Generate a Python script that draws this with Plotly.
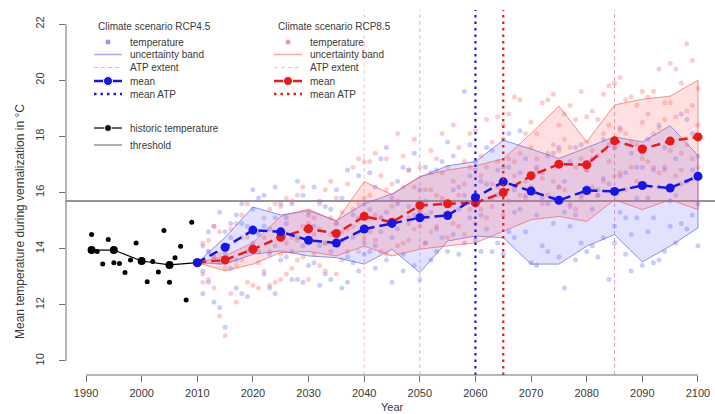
import plotly.graph_objects as go

# ---------------- data ----------------
hist_years = list(range(1991, 2011))
hist_temp = [14.5, 13.9, 13.45, 14.33, 13.5, 13.47, 13.15, 13.6, 14.2, 13.55,
             12.82, 13.54, 13.17, 14.65, 12.8, 13.68, 14.09, 12.17, 14.94, 13.5]
hist_mean_years = [1991, 1995, 2000, 2005, 2010]
hist_mean = [13.95, 13.95, 13.56, 13.42, 13.5]

proj_years = list(range(2011, 2101))

rcp45_a = [13.2, 14.6, 12.1, 15.3, 13.8, 14.9, 12.6, 15.6, 13.9, 14.2,
           15.8, 13.1, 14.7, 16.2, 13.6, 15.1, 12.9, 14.4, 15.9, 13.4,
           14.8, 12.7, 15.5, 13.9, 16.1, 14.3, 12.8, 15.2, 16.6, 13.8,
           15.4, 14.1, 17.2, 13.6, 15.8, 16.4, 13.2, 14.9, 17.4, 15.3,
           14.2, 16.7, 13.9, 15.6, 17.8, 14.5, 16.2, 19.6, 15.1, 17.1,
           16.4, 14.7, 17.5, 15.9, 13.8, 16.9, 15.3, 18.2, 14.6, 16.5,
           13.4, 15.8, 17.3, 14.9, 16.2, 12.6, 15.5, 17.6, 14.2, 16.8,
           15.4, 13.7, 17.9, 16.3, 14.8, 18.3, 15.1, 13.2, 16.9, 17.4,
           14.6, 16.8, 18.4, 13.9, 15.7, 17.2, 14.9, 16.4, 18.1, 15.6]
rcp45_b = [14.1, 12.8, 13.7, 11.9, 14.6, 13.3, 15.2, 12.4, 14.8, 15.4,
           13.9, 14.8, 12.6, 15.1, 14.3, 13.7, 15.6, 12.9, 14.1, 15.2,
           13.5, 15.7, 14.2, 12.9, 14.6, 15.8, 13.7, 14.4, 13.2, 15.6,
           13.9, 16.2, 14.6, 15.3, 12.8, 14.7, 16.9, 15.5, 13.4, 16.1,
           15.7, 13.6, 16.8, 14.4, 15.2, 17.3, 13.8, 15.9, 16.6, 14.3,
           15.2, 17.6, 13.9, 16.8, 17.9, 14.6, 16.1, 15.4, 17.2, 13.5,
           16.9, 14.1, 15.6, 17.4, 13.7, 16.4, 14.8, 15.2, 17.7, 13.9,
           17.2, 16.1, 14.4, 12.9, 17.6, 15.3, 16.7, 14.5, 15.8, 13.4,
           17.9, 15.1, 13.6, 16.9, 17.8, 14.2, 16.3, 18.6, 15.2, 17.3]
rcp45_c = [12.4, 13.9, 14.8, 13.5, 11.2, 14.4, 13.6, 14.9, 12.3, 16.1,
           14.5, 15.9, 13.8, 12.4, 15.6, 14.9, 13.9, 16.4, 12.8, 14.6,
           16.2, 14.1, 13.1, 15.4, 14.9, 12.6, 16.8, 13.5, 15.1, 14.2,
           16.7, 13.3, 15.1, 17.6, 14.4, 15.6, 13.8, 16.8, 15.2, 12.9,
           16.9, 15.3, 14.7, 17.1, 13.9, 16.1, 15.4, 14.2, 17.7, 16.8,
           13.9, 16.3, 15.8, 14.2, 16.9, 18.1, 14.4, 16.7, 15.9, 16.6,
           15.2, 16.7, 13.9, 15.8, 17.6, 15.3, 17.1, 13.6, 15.9, 16.2,
           14.1, 15.9, 16.5, 17.7, 14.2, 16.6, 13.8, 17.4, 15.1, 16.9,
           15.8, 13.5, 16.2, 17.6, 14.8, 15.9, 18.8, 14.7, 16.8, 14.1]

rcp85_a = [13.1, 14.3, 12.6, 13.8, 10.9, 14.7, 13.4, 15.2, 12.8, 14.1,
           14.6, 13.2, 15.4, 14.1, 12.9, 15.8, 14.4, 13.6, 16.2, 14.9,
           13.8, 15.6, 14.2, 16.4, 13.1, 15.3, 14.7, 16.9, 13.9, 15.8,
           14.6, 17.4, 15.1, 13.8, 16.3, 15.7, 14.2, 16.8, 17.9, 15.3,
           16.1, 14.6, 17.2, 15.8, 16.9, 14.9, 17.6, 16.3, 15.4, 18.2,
           16.6, 15.1, 17.8, 16.2, 18.4, 15.7, 17.1, 19.3, 16.4, 17.6,
           18.1, 16.5, 17.4, 19.5, 16.2, 17.9, 15.6, 18.6, 17.2, 16.8,
           18.9, 17.3, 16.4, 19.8, 17.6, 18.2, 16.1, 19.4, 17.7, 18.5,
           17.1, 19.6, 18.3, 16.8, 20.6, 18.7, 17.4, 21.3, 19.1, 18.4]
rcp85_b = [14.2, 12.9, 13.7, 14.6, 13.3, 12.4, 14.9, 13.6, 14.4, 12.7,
           13.5, 15.1, 13.9, 12.8, 15.5, 14.2, 13.3, 15.9, 13.7, 15.3,
           15.1, 13.4, 16.1, 14.5, 14.9, 13.6, 16.3, 14.8, 15.6, 17.1,
           15.9, 14.3, 16.6, 17.2, 14.9, 18.1, 16.2, 15.1, 14.7, 16.9,
           15.2, 17.5, 14.8, 16.7, 15.3, 18.4, 14.8, 17.1, 16.9, 15.6,
           17.3, 18.6, 15.5, 17.1, 16.1, 18.8, 16.6, 15.9, 18.1, 16.2,
           16.8, 19.2, 15.9, 17.7, 18.4, 16.1, 19.1, 16.9, 15.8, 18.7,
           16.2, 18.6, 19.5, 17.1, 16.6, 20.1, 18.1, 16.9, 19.1, 17.2,
           18.8, 16.9, 20.4, 19.2, 17.5, 16.6, 19.9, 17.7, 20.7, 16.9]
rcp85_c = [12.8, 13.9, 14.8, 11.6, 13.9, 13.6, 12.1, 14.4, 15.6, 13.9,
           12.6, 14.4, 12.7, 15.6, 13.8, 13.1, 15.7, 14.3, 14.8, 12.9,
           14.5, 14.7, 13.2, 15.1, 15.8, 14.6, 13.9, 15.4, 17.2, 14.4,
           17.1, 15.2, 13.9, 16.1, 15.5, 14.1, 17.3, 14.3, 16.2, 14.8,
           14.2, 16.1, 15.9, 18.1, 14.4, 16.4, 15.9, 14.5, 18.1, 14.9,
           15.4, 16.9, 16.3, 18.7, 15.2, 17.2, 19.4, 17.4, 15.8, 18.5,
           17.2, 15.6, 19.3, 16.4, 17.5, 18.8, 17.6, 15.4, 19.6, 17.8,
           17.5, 15.9, 18.1, 18.4, 19.9, 16.7, 19.3, 17.8, 16.4, 19.6,
           19.4, 18.1, 16.7, 18.6, 19.2, 20.4, 16.8, 18.9, 17.2, 19.7]

mean_years = list(range(2010, 2101, 5))
rcp45_mean = [13.5, 14.05, 14.66, 14.6, 14.3, 14.2, 14.7, 14.9, 15.1, 15.18,
              15.82, 16.38, 16.05, 15.72, 16.07, 16.04, 16.25, 16.16, 16.58]
rcp85_mean = [13.5, 13.6, 13.98, 14.41, 14.71, 14.54, 15.15, 14.94, 15.54, 15.6,
              15.63, 16.0, 16.6, 17.01, 16.99, 17.84, 17.55, 17.83, 17.98]
rcp45_upper = [13.5, 14.4, 15.48, 15.2, 15.35, 15.0, 15.6, 15.95, 16.55, 16.95,
               17.1, 17.86, 17.55, 17.21, 17.6, 17.98, 17.8, 18.38, 17.32]
rcp45_lower = [13.5, 13.45, 13.8, 13.92, 13.74, 13.68, 13.45, 13.98, 13.15, 14.27,
               14.45, 14.39, 13.45, 13.45, 14.09, 14.5, 13.53, 14.09, 14.74]
rcp85_upper = [13.5, 13.74, 14.21, 15.15, 15.41, 14.97, 16.39, 15.92, 16.57, 16.8,
               16.95, 17.2, 18.1, 19.08, 17.8, 19.12, 19.32, 19.43, 20.0]
rcp85_lower = [13.5, 13.21, 13.45, 13.86, 13.9, 13.74, 14.09, 13.74, 13.98, 14.1,
               14.21, 14.62, 15.03, 15.15, 14.97, 15.74, 15.39, 15.74, 15.39]

threshold = 15.7
rcp45_atp_mean = 2060
rcp85_atp_mean = 2065
rcp45_atp_extent = [2050, 2085]
rcp85_atp_extent = [2040, 2085]

x_ticks = list(range(1990, 2101, 10))
y_ticks = list(range(10, 23, 2))

# ---------------- styles ----------------
FONT = "Liberation Sans, Arial, sans-serif"
BLUE = "rgb(20,20,235)"
RED = "rgb(235,25,25)"
BLUE_PT = "rgba(110,110,255,0.35)"
RED_PT = "rgba(255,110,110,0.35)"
BLUE_FILL = "rgba(110,110,255,0.20)"
RED_FILL = "rgba(255,100,100,0.20)"
BLUE_EDGE = "rgba(90,90,240,0.65)"
RED_EDGE = "rgba(240,90,90,0.65)"
BLUE_EXT = "rgba(140,140,240,0.55)"
RED_EXT = "rgba(240,140,140,0.55)"
AXIS = "#6f6f6f"
TXT = "#3a3a3a"
DOT = "2.5px,4px"
MDASH = "9px,5px"

# plot-area pixel geometry (for legend overlay / titles)
PX_L, PX_R, PX_T, PX_B = 66, 715, 10, 375

def paper_x(px):
    return (px - PX_L) / (PX_R - PX_L)

def paper_y(py):
    return (PX_B - py) / (PX_B - PX_T)

fig = go.Figure()

# scatter of projected temperatures
fig.add_trace(go.Scatter(x=proj_years * 3, y=rcp45_a + rcp45_b + rcp45_c, mode="markers",
                         marker=dict(size=5, color=BLUE_PT), showlegend=False, hoverinfo="skip"))
fig.add_trace(go.Scatter(x=proj_years * 3, y=rcp85_a + rcp85_b + rcp85_c, mode="markers",
                         marker=dict(size=5, color=RED_PT), showlegend=False, hoverinfo="skip"))

# uncertainty bands
fig.add_trace(go.Scatter(x=mean_years + mean_years[::-1], y=rcp45_upper + rcp45_lower[::-1],
                         fill="toself", fillcolor=BLUE_FILL, mode="lines",
                         line=dict(color=BLUE_EDGE, width=1), showlegend=False, hoverinfo="skip"))
fig.add_trace(go.Scatter(x=mean_years + mean_years[::-1], y=rcp85_upper + rcp85_lower[::-1],
                         fill="toself", fillcolor=RED_FILL, mode="lines",
                         line=dict(color=RED_EDGE, width=1), showlegend=False, hoverinfo="skip"))

# historic
fig.add_trace(go.Scatter(x=hist_years, y=hist_temp, mode="markers",
                         marker=dict(size=5, color="black"), showlegend=False))
fig.add_trace(go.Scatter(x=hist_mean_years, y=hist_mean, mode="lines+markers",
                         line=dict(color="black", width=1.2), marker=dict(size=8, color="black"),
                         showlegend=False))

# means
fig.add_trace(go.Scatter(x=mean_years, y=rcp85_mean, mode="lines+markers",
                         line=dict(color=RED, width=2.5, dash=MDASH),
                         marker=dict(size=9, color=RED), showlegend=False))
fig.add_trace(go.Scatter(x=mean_years, y=rcp45_mean, mode="lines+markers",
                         line=dict(color=BLUE, width=2.5, dash=MDASH),
                         marker=dict(size=9, color=BLUE), showlegend=False))

shapes = []
# threshold
shapes.append(dict(type="line", xref="paper", yref="y", x0=0, x1=1, y0=threshold, y1=threshold,
                   line=dict(color="rgb(150,150,150)", width=2), layer="below"))
# ATP extents
for yr in rcp45_atp_extent:
    shapes.append(dict(type="line", xref="x", yref="paper", x0=yr, x1=yr, y0=0, y1=1,
                       line=dict(color=BLUE_EXT, width=1, dash="4px,3px"), layer="below"))
for yr in rcp85_atp_extent:
    shapes.append(dict(type="line", xref="x", yref="paper", x0=yr, x1=yr, y0=0, y1=1,
                       line=dict(color=RED_EXT, width=1, dash="4px,3px"), layer="below"))
# mean ATP
shapes.append(dict(type="line", xref="x", yref="paper", x0=rcp45_atp_mean, x1=rcp45_atp_mean,
                   y0=0, y1=1, line=dict(color="rgb(30,30,200)", width=2.2, dash=DOT)))
shapes.append(dict(type="line", xref="x", yref="paper", x0=rcp85_atp_mean, x1=rcp85_atp_mean,
                   y0=0, y1=1, line=dict(color="rgb(220,30,30)", width=2.2, dash=DOT)))
# R-style axis lines
shapes.append(dict(type="line", xref="x", yref="paper", x0=x_ticks[0], x1=x_ticks[-1], y0=0, y1=0,
                   line=dict(color=AXIS, width=1)))
shapes.append(dict(type="line", xref="paper", yref="y", x0=0, x1=0, y0=y_ticks[0], y1=y_ticks[-1],
                   line=dict(color=AXIS, width=1)))

# ---------------- legend (pixel overlay axes) ----------------
def lg_line(x0, x1, y, color, width, dash="solid", marker=False, msize=8):
    fig.add_trace(go.Scatter(x=[x0, (x0 + x1) / 2, x1], y=[y, y, y], xaxis="x2", yaxis="y2",
                             mode="lines+markers" if marker else "lines",
                             line=dict(color=color, width=width, dash=dash),
                             marker=dict(size=[0, msize, 0], color=color, opacity=1),
                             showlegend=False, hoverinfo="skip"))

def lg_dot(x, y, color, size=5):
    fig.add_trace(go.Scatter(x=[x], y=[y], xaxis="x2", yaxis="y2", mode="markers",
                             marker=dict(size=size, color=color), showlegend=False, hoverinfo="skip"))

annotations = []
def lg_text(x, y, text):
    annotations.append(dict(x=x, y=y, xref="x2", yref="y2", text=text, showarrow=False,
                            xanchor="left", yanchor="middle",
                            font=dict(family=FONT, size=10, color=TXT)))

rows = [42, 54.5, 67.5, 81, 94]
labels = ["temperature", "uncertainty band", "ATP extent", "mean", "mean ATP"]
for (gx0, gx1, tx, title, col, pt, edge, ext, dcol) in [
        (94, 122, 128, "Climate scenario RCP4.5", BLUE, "rgba(110,110,240,0.7)", "rgba(150,150,245,0.8)", BLUE_EXT, "rgb(30,30,200)"),
        (274, 302, 308, "Climate scenario RCP8.5", RED, "rgba(245,110,110,0.7)", "rgba(245,150,150,0.8)", RED_EXT, "rgb(220,30,30)")]:
    gc = (gx0 + gx1) / 2
    lg_text(gx0 + 2, 26, title)
    lg_dot(gc, rows[0], pt, 5)
    lg_line(gx0, gx1, rows[1], edge, 1.5)
    lg_line(gx0, gx1, rows[2], ext, 1.2, dash="4px,3px")
    lg_line(gx0, gx1, rows[3], col, 2.5, marker=True, msize=9)
    lg_line(gx0, gx1, rows[4], dcol, 2.5, dash=DOT)
    for r, lab in zip(rows, labels):
        lg_text(tx, r, lab)

lg_line(94, 122, 128, "black", 1.2, marker=True, msize=7)
lg_text(128, 128, "historic temperature")
lg_line(94, 122, 145, "rgb(150,150,150)", 1.5)
lg_text(128, 145, "threshold")

# axis titles
annotations.append(dict(x=paper_x(20), y=paper_y(222), xref="paper", yref="paper",
                        text="Mean temperature during vernalization in °C",
                        showarrow=False, textangle=-90, xanchor="center", yanchor="middle",
                        font=dict(family=FONT, size=12, color=TXT)))
annotations.append(dict(x=paper_x(392), y=paper_y(407), xref="paper", yref="paper", text="Year",
                        showarrow=False, xanchor="center", yanchor="middle",
                        font=dict(family=FONT, size=11, color=TXT)))

fig.update_layout(
    width=715, height=414,
    margin=dict(l=PX_L, r=715 - PX_R, t=PX_T, b=414 - PX_B),
    plot_bgcolor="white", paper_bgcolor="white",
    font=dict(family=FONT, size=11, color=TXT),
    shapes=shapes, annotations=annotations,
    showlegend=False,
    xaxis=dict(range=[1986.4, 2103.06], tickvals=x_ticks, ticks="outside", ticklen=6,
               tickcolor=AXIS, showgrid=False, zeroline=False, showline=False,
               tickfont=dict(size=11, color=TXT), ticklabelstandoff=2),
    yaxis=dict(range=[9.5, 22.5], tickvals=y_ticks, ticks="outside", ticklen=6,
               tickcolor=AXIS, showgrid=False, zeroline=False, showline=False,
               tickangle=-90, tickfont=dict(size=11, color=TXT), ticklabelstandoff=11),
    xaxis2=dict(overlaying="x", anchor="y2", range=[PX_L, PX_R], visible=False, fixedrange=True),
    yaxis2=dict(overlaying="y", anchor="x2", range=[PX_B, PX_T], visible=False, fixedrange=True),
)

fig.write_html("out.html", config={"displayModeBar": False},
               post_script="document.body.style.margin='0px';")
